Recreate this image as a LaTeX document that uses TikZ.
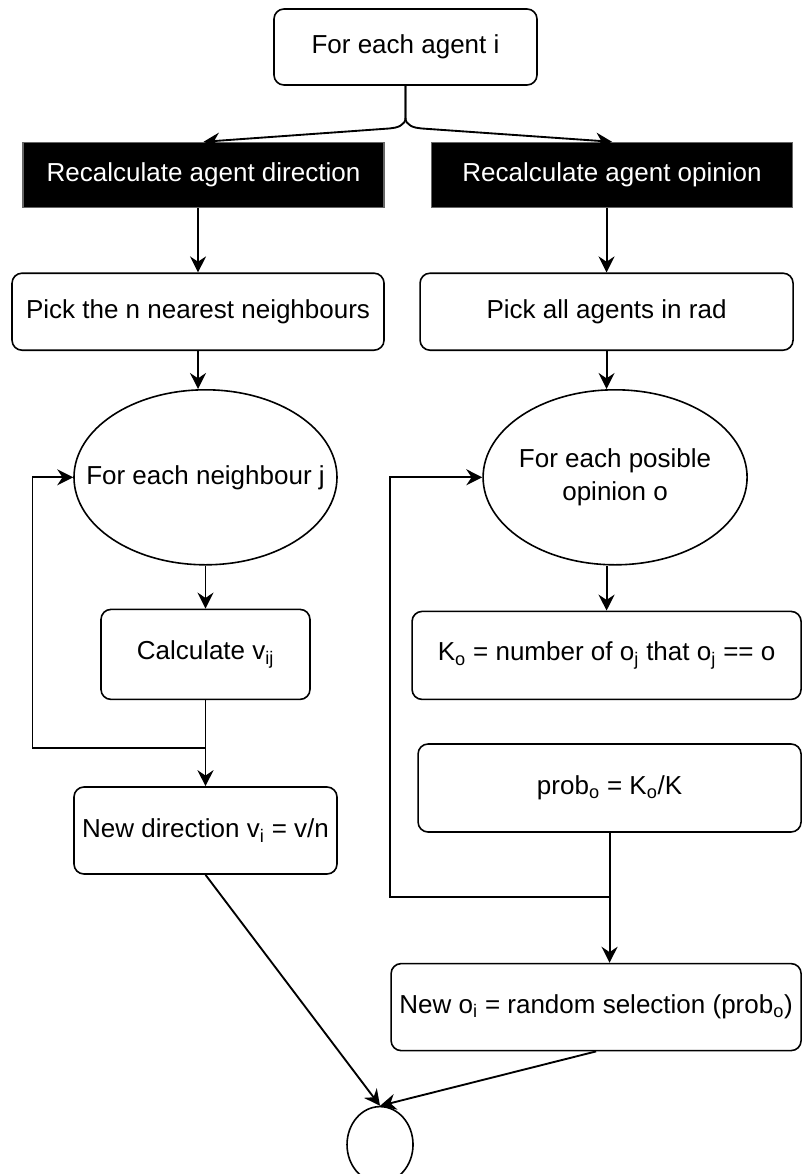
\documentclass[tikz,border=0pt]{standalone}
\usepackage{fontspec}
\setmainfont{Liberation Sans}
\usetikzlibrary{positioning,arrows.meta,shapes.geometric}
\newcommand{\slim}[1]{\makebox[0pt]{#1}}

\begin{document}
\begin{tikzpicture}[
    font=\fontsize{19.5}{24.75}\selectfont,
    box/.style={draw=black, rounded corners=7.5pt, align=center, line width=1.2pt,
                inner sep=2pt, minimum height=57.75pt},
    head/.style={draw=black!60, fill=black, text=white, line width=1.2pt,
                 minimum width=270.75pt, minimum height=48.75pt, inner sep=2pt},
    loopnode/.style={draw=black, ellipse, line width=1.2pt, inner sep=0pt,
                     minimum width=197.25pt, minimum height=131.25pt},
    stopnode/.style={draw=black, ellipse, line width=1.2pt, inner sep=0pt,
                     minimum width=49.5pt, minimum height=57pt},
    flow/.style={-{Stealth[length=12pt,width=12pt,inset=4pt]}, draw=black, line width=1.4pt},
    wire/.style={draw=black, line width=1.4pt},
  ]
  \useasboundingbox (-304.125pt,-845.25pt) rectangle (298.875pt,35.25pt);

  \node[box, minimum width=197.25pt, minimum height=57pt] (agent) {For each agent i};
  \node[head, below=42pt of agent, xshift=-151.5pt] (dirhead) {Recalculate agent direction};
  \node[head, below=42pt of agent, xshift=154.9pt]  (opnhead) {Recalculate agent opinion};

  % direction branch
  \node[box, minimum width=279pt, below=48pt of dirhead, xshift=-4.1pt] (pickn) {Pick the n nearest neighbours};
  \node[loopnode, below=28.5pt of pickn, xshift=5.6pt] (nbr) {\slim{For each neighbour j}};
  \node[box, minimum width=156.75pt, minimum height=67.5pt, below=32.25pt of nbr] (calc) {Calculate v\textsubscript{ij}};
  \node[box, minimum width=197.25pt, minimum height=65.25pt, below=64.5pt of calc] (newdir) {New direction v\textsubscript{i} = v/n};

  % opinion branch
  \node[box, minimum width=279.75pt, below=48pt of opnhead, xshift=-4.1pt] (picka) {Pick all agents in rad};
  \node[loopnode, minimum width=198pt, below=28.5pt of picka, xshift=6.4pt] (opt)
       {\slim{\begin{tabular}{@{}c@{}}For each posible\\opinion o\end{tabular}}};
  \node[box, minimum width=291.75pt, minimum height=66pt, below=33.75pt of opt, xshift=-6.4pt] (count)
       {K\textsubscript{o} = number of o\textsubscript{j} that o\textsubscript{j} == o};
  \node[box, minimum width=287.25pt, minimum height=66pt, below=32.25pt of count, xshift=2.25pt] (prob)
       {prob\textsubscript{o} = K\textsubscript{o}/K};
  \node[box, minimum width=307.5pt, minimum height=65.25pt, below=97.5pt of prob, xshift=-10.1pt] (newop)
       {New o\textsubscript{i} = random selection (prob\textsubscript{o})};

  \node[stopnode, below=173.25pt of newdir, xshift=130.9pt] (stop) {};

  \coordinate[below=36pt of calc] (lj);
  \coordinate[below=48pt of prob] (rj);

  % fork out of the top box
  \draw[flow] (agent.south) -- ++(0,-24pt) to[out=-90,in=4] ++(-12pt,-8pt) -- (dirhead.north);
  \draw[flow] (agent.south) -- ++(0,-24pt) to[out=-90,in=176] ++(12pt,-8pt) -- (opnhead.north);

  \draw[flow] (pickn.north |- dirhead.south) -- (pickn.north);
  \draw[flow] (picka.north |- opnhead.south) -- (picka.north);
  \draw[flow] (pickn.south) -- (pickn.south |- nbr.north);
  \draw[flow] (picka.south) -- (picka.south |- opt.north);

  \draw[flow] (nbr.south) -- (calc.north);
  \draw[wire] (calc.south) -- (lj);
  \draw[flow] (lj) -- (newdir.north);
  \draw[flow] (lj) -- ++(-129.75pt,0) |- (nbr.west);

  \draw[flow] (count.north |- opt.south) -- (count.north);
  \draw[wire] (prob.south) -- (rj);
  \draw[flow] (rj) -- (rj |- newop.north);
  \draw[flow] (rj) -- ++(-164.6pt,0) |- (opt.west);

  \draw[flow] (newdir.south) -- (stop.north);
  \draw[flow] (newop.south) -- (stop.north);
\end{tikzpicture}
\end{document}
